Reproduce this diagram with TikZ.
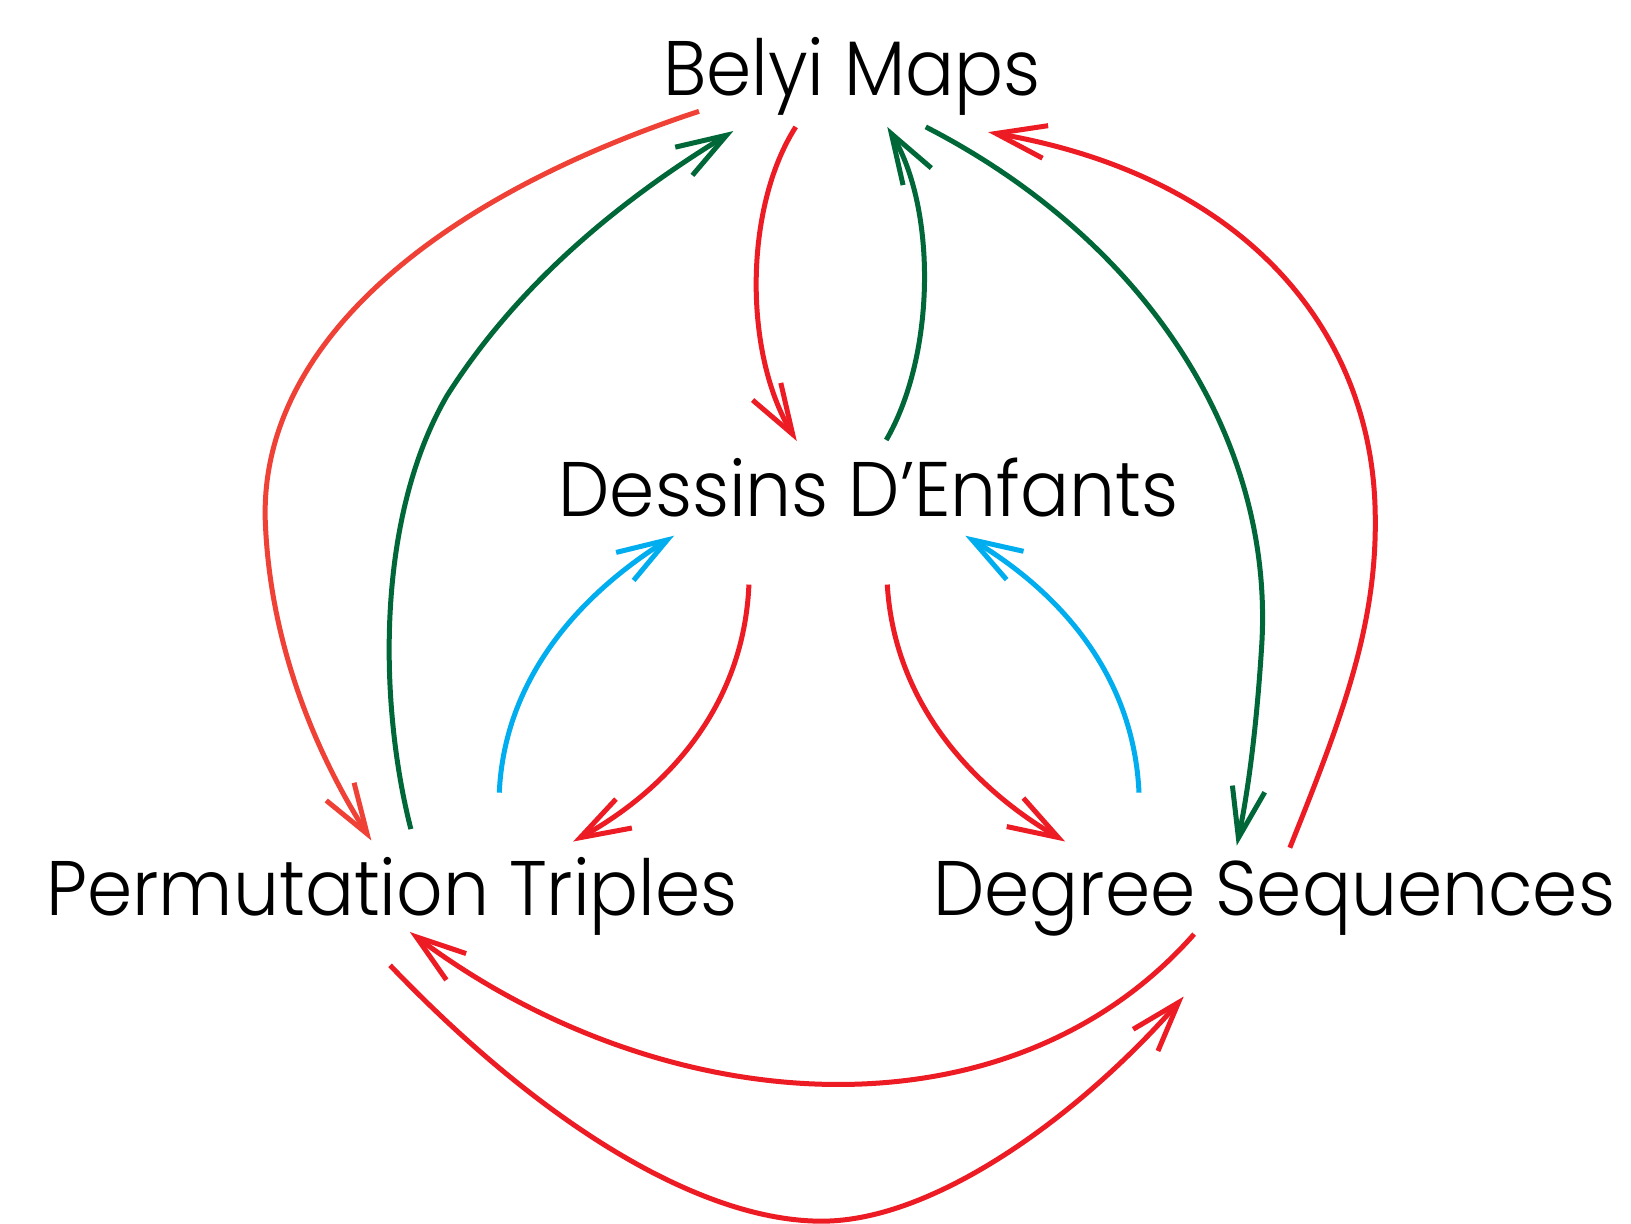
\documentclass[tikz,border=0pt]{standalone}
\usepackage{fontspec}
\setmainfont{Poppins}[UprightFont={* Light}, FakeStretch=0.94]
\usetikzlibrary{arrows.meta}
\definecolor{cred}{HTML}{ED1C24}
\definecolor{corange}{HTML}{EF4136}
\definecolor{cgreen}{HTML}{006838}
\definecolor{cblue}{HTML}{00AEEF}
\begin{document}
\begin{tikzpicture}[x=0.20804mm,y=-0.20804mm,
  lbl/.style={anchor=base, inner sep=0pt, font=\fontsize{44}{50}\selectfont},
  conn/.style={line width=1mm, -{Straight Barb[length=10mm,width=6.6mm]}}]
\useasboundingbox[fill=white] (0,0) rectangle (1568,1176);
\node[lbl] (belyi) at (819,92) {Belyi Maps};
\node[lbl] (dessins) at (835,497) {Dessins D’Enfants};
\node[lbl] (perm) at (377,880) {Permutation Triples};
\node[lbl] (degree) at (1225,880) {Degree Sequences};
% Belyi -> Permutation (orange)
\draw[conn, corange] ([shift={(-147,15)}]belyi.base) .. controls (420,190) and (250,330) .. (255,500)
  .. controls (260,640) and (320,750) .. ([shift={(-20,-72)}]perm.base);
% Permutation -> Belyi (green)
\draw[conn, cgreen] ([shift={(18,-83)}]perm.base) .. controls (365,680) and (360,500) .. (430,380)
  .. controls (500,270) and (600,190) .. ([shift={(-114,34)}]belyi.base);
% Belyi -> Dessins (red)
\draw[conn, cred] ([shift={(-54,30)}]belyi.base) .. controls (715,200) and (715,340) .. ([shift={(-69,-73)}]dessins.base);
% Dessins -> Belyi (green)
\draw[conn, cgreen] ([shift={(17,-74)}]dessins.base) .. controls (900,340) and (900,200) .. ([shift={(34,30)}]belyi.base);
% Belyi -> Degree (green)
\draw[conn, cgreen] ([shift={(71,30)}]belyi.base) .. controls (1100,230) and (1225,420) .. (1213,620)
  .. controls (1208,700) and (1200,760) .. ([shift={(-36,-67)}]degree.base);
% Degree -> Belyi (red)
\draw[conn, cred] ([shift={(15,-65)}]degree.base) .. controls (1290,690) and (1325,600) .. (1322,490)
  .. controls (1318,320) and (1200,170) .. ([shift={(131,35)}]belyi.base);
% Permutation -> Dessins (blue)
\draw[conn, cblue] ([shift={(103,-118)}]perm.base) .. controls (485,650) and (560,570) .. ([shift={(-187,18)}]dessins.base);
% Degree -> Dessins (blue)
\draw[conn, cblue] ([shift={(-130,-118)}]degree.base) .. controls (1090,650) and (1020,570) .. ([shift={(93,18)}]dessins.base);
% Dessins -> Permutation (red)
\draw[conn, cred] ([shift={(-115,65)}]dessins.base) .. controls (715,680) and (640,760) .. ([shift={(174,-71)}]perm.base);
% Dessins -> Degree (red)
\draw[conn, cred] ([shift={(18,65)}]dessins.base) .. controls (860,680) and (940,760) .. ([shift={(-201,-71)}]degree.base);
% Degree -> Permutation (red)
\draw[conn, cred] ([shift={(-77,18)}]degree.base) .. controls (970,1100) and (640,1080) .. ([shift={(17,16)}]perm.base);
% Permutation -> Degree (red)
\draw[conn, cred] ([shift={(-2,48)}]perm.base) .. controls (530,1090) and (680,1174) .. (790,1174)
  .. controls (900,1174) and (1040,1070) .. ([shift={(-87,78)}]degree.base);
\end{tikzpicture}
\end{document}
